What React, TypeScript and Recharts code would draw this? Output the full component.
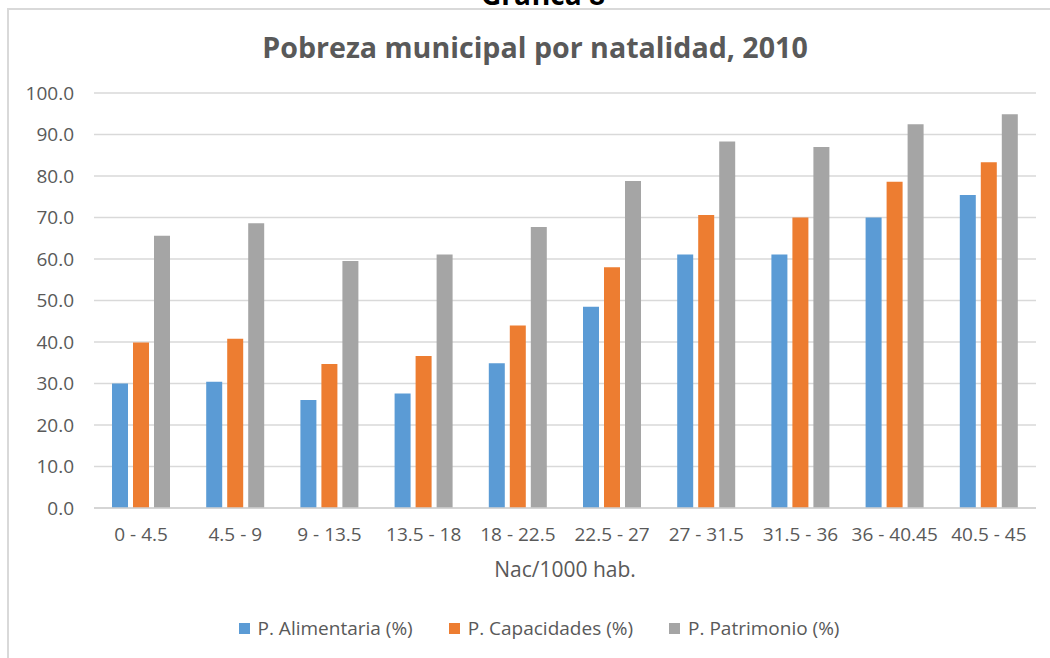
import React from "react";
import { BarChart, Bar, XAxis, YAxis, CartesianGrid, Label } from "recharts";

const categories = ["0 - 4.5", "4.5 - 9", "9 - 13.5", "13.5 - 18", "18 - 22.5", "22.5 - 27", "27 - 31.5", "31.5 - 36", "36 - 40.45", "40.5 - 45"];
const alimentaria = [30.0, 30.4, 26.0, 27.6, 34.9, 48.5, 61.1, 61.1, 70.0, 75.4];
const capacidades = [39.9, 40.8, 34.7, 36.6, 44.0, 58.0, 70.6, 70.0, 78.6, 83.3];
const patrimonio = [65.6, 68.6, 59.5, 61.1, 67.7, 78.8, 88.3, 87.0, 92.5, 94.9];
const yTicks = [0, 10, 20, 30, 40, 50, 60, 70, 80, 90, 100];

const seriesNames = ["P. Alimentaria (%)", "P. Capacidades (%)", "P. Patrimonio (%)"];
const seriesColors = ["#5B9BD5", "#ED7D31", "#A5A5A5"];

const data = categories.map((c, i) => ({
  cat: c,
  a: alimentaria[i],
  c: capacidades[i],
  p: patrimonio[i],
}));

const FONT = "'Open Sans', 'Liberation Sans', sans-serif";
const TXT = "#595959";

export default function App() {
  return (
    <div
      style={{
        position: "absolute",
        left: 0,
        top: 0,
        width: 1050,
        height: 658,
        overflow: "hidden",
        background: "#fff",
        fontFamily: FONT,
      }}
    >
      <div
        style={{
          position: "absolute",
          left: 7,
          top: 8,
          width: 1100,
          height: 700,
          border: "2px solid #d9d9d9",
        }}
      />
      <svg width={1050} height={658} style={{ position: "absolute", left: 0, top: 0 }}>
        <text x={543} y={5} textAnchor="middle" fontFamily={FONT} fontWeight="bold" fontSize={28} fill="#000">
          Gráfica 8
        </text>
        <text x={535} y={58} textAnchor="middle" fontFamily={FONT} fontWeight="bold" fontSize={28.6} fill={TXT}>
          Pobreza municipal por natalidad, 2010
        </text>
      </svg>
      <div style={{ position: "absolute", left: 0, top: 0 }}>
        <BarChart
          width={1050}
          height={658}
          data={data}
          margin={{ top: 93, right: 14, left: 0, bottom: 70 }}
          barSize={16}
          barGap={5}
        >
          <CartesianGrid vertical={false} stroke="#d9d9d9" strokeWidth={1.5} />
          <XAxis
            dataKey="cat"
            height={80}
            axisLine={{ stroke: "#d0d0d0", strokeWidth: 1.5 }}
            tickLine={false}
            tickSize={0}
            tickMargin={20}
            interval={0}
            tick={{ fill: TXT, fontSize: 19, fontFamily: FONT }}
          >
            <Label
              value="Nac/1000 hab."
              position="insideBottom"
              offset={11}
              fill={TXT}
              fontSize={21}
              fontFamily={FONT}
            />
          </XAxis>
          <YAxis
            width={94}
            domain={[0, 100]}
            ticks={yTicks}
            axisLine={false}
            tickLine={false}
            tickSize={0}
            tickMargin={20}
            tickFormatter={(v: number) => v.toFixed(1)}
            tick={{ fill: TXT, fontSize: 19, fontFamily: FONT }}
          />
          <Bar dataKey="a" name={seriesNames[0]} fill={seriesColors[0]} isAnimationActive={false} />
          <Bar dataKey="c" name={seriesNames[1]} fill={seriesColors[1]} isAnimationActive={false} />
          <Bar dataKey="p" name={seriesNames[2]} fill={seriesColors[2]} isAnimationActive={false} />
        </BarChart>
      </div>
      <div
        style={{
          position: "absolute",
          left: 0,
          top: 615,
          width: 1078,
          display: "flex",
          justifyContent: "center",
          alignItems: "center",
          gap: 36,
          fontSize: 19,
          color: TXT,
          fontFamily: FONT,
          lineHeight: "26px",
        }}
      >
        {seriesNames.map((n, i) => (
          <div key={n} style={{ display: "flex", alignItems: "center" }}>
            <span style={{ display: "inline-block", width: 11, height: 11, background: seriesColors[i], marginRight: 8 }} />
            <span>{n}</span>
          </div>
        ))}
      </div>
    </div>
  );
}
